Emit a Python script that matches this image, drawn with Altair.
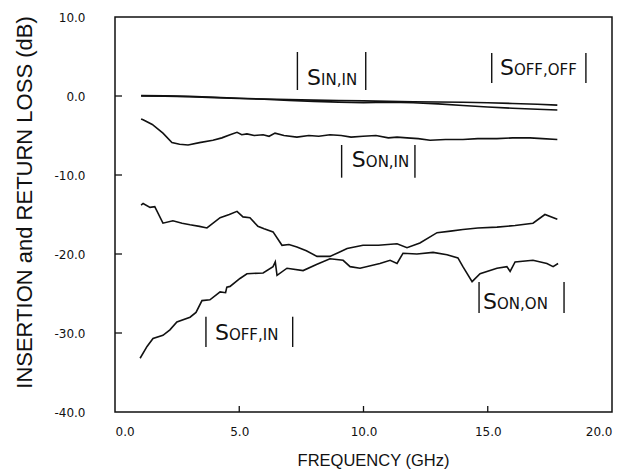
import altair as alt
import pandas as pd

# ---- data ----
f_in_in = [1.05, 2, 3, 4, 5, 6, 7, 8, 9, 10, 11, 12, 13, 14, 15, 16, 17, 17.8]
db_in_in = [0.05, 0.02, -0.05, -0.15, -0.28, -0.38, -0.45, -0.52, -0.57, -0.62, -0.68, -0.72, -0.76, -0.8, -0.85, -0.95, -1.05, -1.15]

f_off_off = [1.05, 2, 3, 4, 5, 6, 7, 8, 9, 10, 11, 12, 13, 14, 15, 16, 17, 17.8]
db_off_off = [0.0, -0.02, -0.1, -0.2, -0.32, -0.42, -0.55, -0.68, -0.78, -0.85, -0.8, -0.85, -1.0, -1.2, -1.4, -1.55, -1.68, -1.78]

f_on_in = [1.05, 1.13, 1.5, 1.93, 2.29, 2.6, 2.94, 3.4, 3.94, 4.3, 4.63, 4.91, 5.1, 5.31, 5.6, 5.96, 6.2, 6.44, 6.8, 7.32,
           7.8, 8.2, 8.65, 9.1, 9.5, 9.98, 10.5, 11.0, 11.35, 11.75, 12.2, 12.68, 13.3, 14.0, 14.6, 15.37, 16.0, 16.7, 17.2, 17.8]
db_on_in = [-2.9, -3.0, -3.6, -4.7, -5.9, -6.1, -6.2, -5.9, -5.6, -5.3, -4.9, -4.6, -4.9, -4.8, -5.0, -4.9, -5.1, -4.7, -5.0, -5.2,
            -5.0, -5.1, -4.9, -5.0, -5.2, -5.1, -5.0, -5.3, -5.2, -5.3, -5.4, -5.6, -5.5, -5.5, -5.4, -5.4, -5.3, -5.3, -5.4, -5.5]

f_on_on = [1.05, 1.13, 1.41, 1.6, 1.93, 2.33, 2.7, 3.02, 3.4, 3.7, 4.23, 4.6, 4.91, 5.15, 5.43, 5.75, 6.0, 6.36, 6.72, 7.0,
           7.32, 7.7, 8.13, 8.65, 9.0, 9.34, 9.98, 10.6, 11.35, 11.75, 12.27, 12.96, 13.5, 14.0, 14.6, 15.37, 16.1, 16.82, 17.3, 17.8]
db_on_on = [-13.8, -13.6, -14.1, -14.0, -16.1, -15.8, -16.1, -16.3, -16.5, -16.7, -15.4, -15.0, -14.6, -15.3, -15.4, -16.5, -16.8, -17.2, -18.9, -18.8,
            -19.1, -19.6, -20.3, -20.3, -19.8, -19.3, -18.9, -18.9, -18.7, -19.2, -18.6, -17.3, -17.1, -16.9, -16.7, -16.6, -16.4, -16.1, -15.0, -15.6]

f_off_in = [1.01, 1.29, 1.53, 1.93, 2.21, 2.49, 3.02, 3.26, 3.5, 3.82, 4.23, 4.45, 4.5, 4.63, 5.03, 5.31, 5.96, 6.36, 6.45, 6.52, 6.92, 7.57,
            8.13, 8.65, 9.18, 9.46, 9.86, 10.66, 11.07, 11.35, 11.59, 12.15, 12.8, 13.36, 13.8, 14.0, 14.37, 14.69, 15.37, 15.77, 15.9, 16.1,
            16.82, 17.38, 17.63, 17.83]
db_off_in = [-33.2, -31.7, -30.7, -30.3, -29.6, -28.6, -28.0, -27.4, -25.9, -25.8, -24.8, -24.9, -24.2, -24.1, -23.1, -22.5, -22.4, -21.6, -21.0, -22.7, -21.8, -22.1,
             -21.3, -20.6, -20.8, -21.6, -21.8, -21.2, -20.8, -21.2, -19.9, -20.0, -19.8, -20.1, -20.5, -21.6, -23.5, -22.5, -21.8, -21.6, -22.2, -21.0,
             -20.8, -21.2, -21.6, -21.2]

# label annotations
lab_sub = ["IN,IN", "OFF,OFF", "ON,IN", "ON,ON", "OFF,IN"]
lab_x = [7.73, 15.49, 9.53, 14.81, 4.02]
lab_y = [1.39, 2.66, -8.95, -26.9, -30.9]
bar_left = [7.34, 15.16, 9.12, 14.65, 3.66]
bar_right = [10.09, 18.95, 12.07, 18.07, 7.15]
bar_top = [5.57, 5.44, -6.2, -23.54, -27.94]
bar_bottom = [0.76, 1.65, -10.34, -27.47, -31.77]

x_ticks = [5, 10, 15]
y_ticks = [0, -10, -20, -30]

# ---- tables ----
rows = []
for name, fs, ds in [("S_IN,IN", f_in_in, db_in_in), ("S_OFF,OFF", f_off_off, db_off_off),
                     ("S_ON,IN", f_on_in, db_on_in), ("S_ON,ON", f_on_on, db_on_on),
                     ("S_OFF,IN", f_off_in, db_off_in)]:
    for i, (f, d) in enumerate(zip(fs, ds)):
        rows.append({"series": name, "f": f, "db": d, "order": i})
curves = pd.DataFrame(rows)

labels = pd.DataFrame({"sub": lab_sub, "x": lab_x, "y": lab_y, "S": ["S"] * len(lab_sub)})
bars = pd.DataFrame({"x": bar_left + bar_right,
                     "top": bar_top + bar_top,
                     "bottom": bar_bottom + bar_bottom})
xt = pd.DataFrame({"t": x_ticks})
yt = pd.DataFrame({"t": y_ticks})

xs = alt.Scale(domain=[0, 20], nice=False)
ys = alt.Scale(domain=[-40, 10], nice=False)

FONT = "DejaVu Sans"
TFONT = "Liberation Sans"

lines = alt.Chart(curves).mark_line(color="#111", strokeWidth=1.6, interpolate="linear").encode(
    x=alt.X("f:Q", scale=xs, axis=alt.Axis(
        title="FREQUENCY (GHz)", values=[0, 5, 10, 15, 20], labelExpr="format(datum.value, '.1f')",
        ticks=False, tickSize=0, domain=False, grid=False, labelPadding=14,
        labelFont=FONT, labelFontSize=12, labelColor="#111",
        titleFont=TFONT, titleFontSize=16.5, titleFontWeight="normal", titleColor="#111",
        titleX=258, titleY=53, titleBaseline="alphabetic", titleAlign="center")),
    y=alt.Y("db:Q", scale=ys, axis=alt.Axis(
        title="INSERTION and RETURN LOSS (dB)", values=[-40, -30, -20, -10, 0, 10],
        labelExpr="datum.value < 0 ? '-' + format(abs(datum.value), '.1f') : format(datum.value, '.1f')",
        ticks=False, tickSize=0, domain=False, grid=False, labelPadding=30,
        labelFont=FONT, labelFontSize=12, labelColor="#111",
        titleFont=TFONT, titleFontSize=22, titleFontWeight="normal", titleColor="#111",
        titleX=-84, titleY=185, titleAlign="center", titleBaseline="alphabetic")),
    detail="series:N",
    order="order:Q",
)

xtick = alt.Chart(xt).mark_rule(color="#111", strokeWidth=1.3).encode(
    x=alt.X("t:Q", scale=xs), y=alt.value(395), y2=alt.value(389))
ytick = alt.Chart(yt).mark_rule(color="#111", strokeWidth=1.3).encode(
    y=alt.Y("t:Q", scale=ys), x=alt.value(0), x2=alt.value(7))

s_text = alt.Chart(labels).mark_text(font=FONT, fontSize=22, align="left", baseline="alphabetic", color="#111").encode(
    x=alt.X("x:Q", scale=xs), y=alt.Y("y:Q", scale=ys), text="S:N")
sub_text = alt.Chart(labels).mark_text(font=FONT, fontSize=15, align="left", baseline="alphabetic", color="#111", dx=14).encode(
    x=alt.X("x:Q", scale=xs), y=alt.Y("y:Q", scale=ys), text="sub:N")
bar_rules = alt.Chart(bars).mark_rule(color="#111", strokeWidth=1.4).encode(
    x=alt.X("x:Q", scale=xs), y=alt.Y("top:Q", scale=ys), y2="bottom:Q")

chart = alt.layer(lines, xtick, ytick, bar_rules, s_text, sub_text).properties(
    width=497, height=395,
    autosize=alt.AutoSizeParams(type="none"),
    padding={"left": 115, "top": 17, "right": 27, "bottom": 60},
    background="white",
).configure_view(stroke="#111", strokeWidth=1.5)

chart.save("out.html", embed_options={"renderer": "svg", "actions": False})
